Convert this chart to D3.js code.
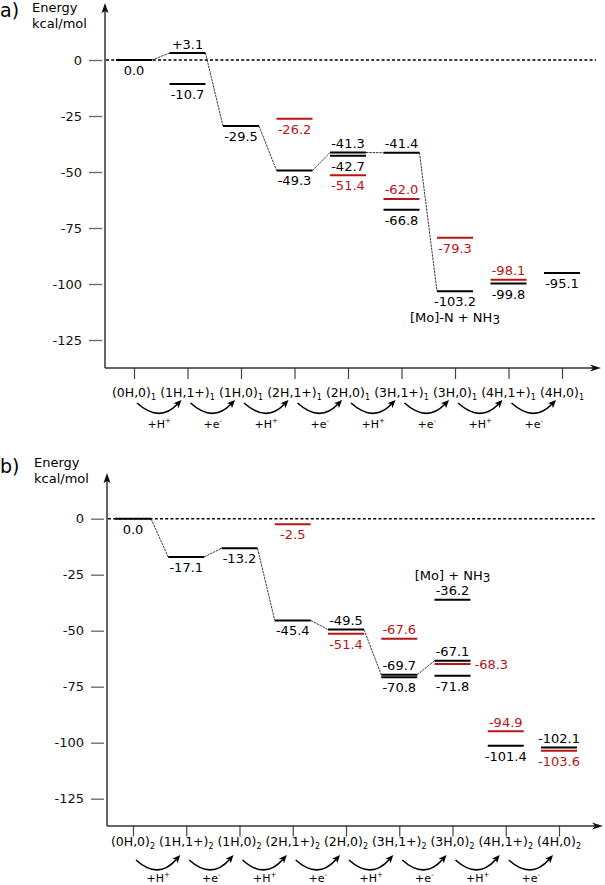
<!DOCTYPE html>
<html><head><meta charset="utf-8">
<script src="https://cdn.jsdelivr.net/npm/d3@7"></script>
<style>body{margin:0;background:#fff}svg{display:block;font-family:"DejaVu Sans",sans-serif}</style>
</head><body><svg id="c" width="605" height="885"></svg>
<script>
// ---------- data ----------
const categories = ["(0H,0)","(1H,1+)","(1H,0)","(2H,1+)","(2H,0)","(3H,1+)","(3H,0)","(4H,1+)","(4H,0)"];
const stepLabels = ["H","e","H","e","H","e","H","e"];
const stepCharges = ["+","-","+","-","+","-","+","-"];
const yTicks = [0,-25,-50,-75,-100,-125];

// panel a
const levelCatA    = [0,1,1,2,3,3,4,4,4,5,5,5,6,6,7,7,8];
const levelEnergyA = [0.0,3.1,-10.7,-29.5,-26.2,-49.3,-41.3,-42.7,-51.4,-41.4,-62.0,-66.8,-79.3,-103.2,-98.1,-99.8,-95.1];
const levelTextA   = ["0.0","+3.1","-10.7","-29.5","-26.2","-49.3","-41.3","-42.7","-51.4","-41.4","-62.0","-66.8","-79.3","-103.2","-98.1","-99.8","-95.1"];
const levelSeriesA = ["k","k","k","k","r","k","k","k","r","k","r","k","r","k","r","k","k"];
const pathA = [0,1,3,5,6,9,13];

// panel b (positions as drawn in the picture)
const levelCatB    = [0,1,2,3,3,4,4,5,5,5,6,6,6,6,7,7,8,8];
const levelEnergyB = [0.0,-17.1,-13.2,-2.5,-45.4,-49.5,-51.4,-53.6,-69.7,-70.8,-36.2,-63.4,-64.9,-70.1,-94.9,-101.4,-102.1,-103.6];
const levelTextB   = ["0.0","-17.1","-13.2","-2.5","-45.4","-49.5","-51.4","-67.6","-69.7","-70.8","-36.2","-67.1","-68.3","-71.8","-94.9","-101.4","-102.1","-103.6"];
const levelSeriesB = ["k","k","k","r","k","k","r","r","k","k","k","k","r","k","r","k","k","r"];
const pathB = [0,1,2,4,5,8,11];

// ---------- layout ----------
const labelSideA = ["below","above","below","below","below","below","above","below","below","above","above","below","below","below","above","below","below"];
const labelSideB = ["below","below","below","below","below","above","below","above","above","below","above","above","right","below","above","below","above","below"];
const colors = {k:"#000", r:"#b81414"};

const svg = d3.select("#c");

function panel(cfg){
  const g = svg.append("g");
  const x = d3.scalePoint().domain(d3.range(categories.length)).range(cfg.xRange);
  const y = d3.scaleLinear().domain([0,-125]).range([cfg.y0, cfg.y0 + 280]);

  // panel letter & axis title
  g.append("text").attr("x",0).attr("y",cfg.letterY).attr("font-size",19).text(cfg.letter);
  g.append("text").attr("x",cfg.titleX).attr("y",cfg.titleY).attr("font-size",13).text("Energy");
  g.append("text").attr("x",cfg.titleX).attr("y",cfg.titleY+16).attr("font-size",13).text("kcal/mol");

  // y ticks
  const ya = g.append("g").attr("transform",`translate(${cfg.axisX-3},0)`)
    .call(d3.axisLeft(y).tickValues(yTicks).tickSize(13).tickPadding(7).tickFormat(d=>String(d)));
  ya.select(".domain").remove();
  ya.selectAll("line").attr("stroke","#666").attr("stroke-width",1.3);
  ya.selectAll("text").attr("font-size",13).attr("font-family","DejaVu Sans").attr("fill","#111");

  // x ticks
  const xa = g.append("g").attr("transform",`translate(0,${cfg.axisY})`)
    .call(d3.axisBottom(x).tickSize(cfg.xTickLen).tickFormat(()=>""));
  xa.select(".domain").remove();
  xa.selectAll("line").attr("stroke","#444").attr("stroke-width",1.2);

  // category labels
  categories.forEach((c,i)=>{
    const t = g.append("text").attr("x",x(i)).attr("y",cfg.catY).attr("text-anchor","middle").attr("font-size",12.5);
    t.append("tspan").text(c);
    t.append("tspan").attr("font-size",8).attr("dy",3).text(cfg.sub);
  });

  // step arrows
  stepLabels.forEach((s,i)=>{
    const x0 = x(i)+3, x1 = x(i+1)-6, xm = (x0+x1)/2;
    const y0 = cfg.arrowY0, y1 = cfg.arrowY1, yc = cfg.arrowYc;
    const dx = x1 - xm, dy = y1 - yc, L = Math.hypot(dx,dy), ux = dx/L, uy = dy/L;
    const bx = x1 - ux*8, by = y1 - uy*8;
    g.append("path").attr("d",`M${x0},${y0} Q${xm},${yc} ${bx+ux*2},${by+uy*2}`)
      .attr("fill","none").attr("stroke","#000").attr("stroke-width",1.6);
    g.append("path").attr("d",`M${x1},${y1} L${bx - uy*3.5},${by + ux*3.5} L${bx+ux*2},${by+uy*2} L${bx + uy*3.5},${by - ux*3.5}Z`).attr("fill","#000");
    const t = g.append("text").attr("x",xm).attr("y",cfg.stepY).attr("text-anchor","middle").attr("font-size",11);
    t.append("tspan").text("+"+s);
    t.append("tspan").attr("font-size",7).attr("dy",-5).text(stepCharges[i]);
  });

  // axes with arrows
  g.append("line").attr("x1",cfg.axisX).attr("x2",cfg.axisX).attr("y1",cfg.axisY).attr("y2",cfg.yTip+8).attr("stroke","#333").attr("stroke-width",1.5);
  g.append("path").attr("d",`M${cfg.axisX},${cfg.yTip} L${cfg.axisX-3.5},${cfg.yTip+10} L${cfg.axisX},${cfg.yTip+8} L${cfg.axisX+3.5},${cfg.yTip+10}Z`).attr("fill","#111");
  g.append("line").attr("x1",cfg.axisX).attr("x2",cfg.xTip-8).attr("y1",cfg.axisY).attr("y2",cfg.axisY).attr("stroke","#333").attr("stroke-width",1.5);
  g.append("path").attr("d",`M${cfg.xTip},${cfg.axisY} L${cfg.xTip-11},${cfg.axisY-3.5} L${cfg.xTip-8},${cfg.axisY} L${cfg.xTip-11},${cfg.axisY+3.5}Z`).attr("fill","#111");

  // zero reference
  g.append("line").attr("x1",cfg.axisX+1).attr("x2",596).attr("y1",y(0)).attr("y2",y(0))
    .attr("stroke","#000").attr("stroke-width",1.4).attr("stroke-dasharray","3,2.2");

  const levels = cfg.cat.map((c,i)=>({c, e:cfg.energy[i], t:cfg.text[i], s:cfg.series[i], side:cfg.side[i]}));
  const hw = 18;

  // connectors
  for(let k=0;k<cfg.path.length-1;k++){
    const a = levels[cfg.path[k]], b = levels[cfg.path[k+1]];
    g.append("line").attr("x1",x(a.c)+hw).attr("y1",y(a.e)).attr("x2",x(b.c)-hw).attr("y2",y(b.e))
      .attr("stroke","#222").attr("stroke-width",0.9).attr("stroke-dasharray","2.5,0.8");
  }

  // level bars
  g.selectAll(null).data(levels).enter().append("line")
    .attr("x1",d=>x(d.c)-hw).attr("x2",d=>x(d.c)+hw)
    .attr("y1",d=>y(d.e)).attr("y2",d=>y(d.e))
    .attr("stroke",d=>colors[d.s]).attr("stroke-width",2);

  // labels
  g.selectAll(null).data(levels).enter().append("text")
    .attr("font-size",13).attr("fill",d=>colors[d.s])
    .attr("text-anchor",d=>d.side==="right"?"start":"middle")
    .attr("x",d=>d.side==="right"? x(d.c)+hw+4 : x(d.c))
    .attr("y",d=>d.side==="above"? y(d.e)-4.5 : d.side==="below"? y(d.e)+15 : y(d.e)+5)
    .text(d=>d.t);

  // annotation
  const an = g.append("text").attr("x",x(6)).attr("y",cfg.noteY).attr("text-anchor","middle").attr("font-size",13);
  an.append("tspan").text(cfg.note);
  an.append("tspan").attr("dy",2).attr("font-size",12).text("3");
}

panel({letter:"a)", letterY:17, titleX:32, titleY:11.5, sub:"1",
  xRange:[134,562], y0:60, axisX:105, axisY:368, yTip:3, xTip:601, xTickLen:11,
  catY:396.5, arrowY0:403, arrowY1:400, arrowYc:423, stepY:428,
  cat:levelCatA, energy:levelEnergyA, text:levelTextA, series:levelSeriesA, side:labelSideA, path:pathA,
  note:"[Mo]-N + NH", noteY:322});

panel({letter:"b)", letterY:473, titleX:34, titleY:467, sub:"2",
  xRange:[133,559], y0:518.7, axisX:107, axisY:826, yTip:473, xTip:603, xTickLen:10.5,
  catY:846, arrowY0:860, arrowY1:855, arrowYc:880, stepY:882,
  cat:levelCatB, energy:levelEnergyB, text:levelTextB, series:levelSeriesB, side:labelSideB, path:pathB,
  note:"[Mo] + NH", noteY:580});
</script>
</body></html>
